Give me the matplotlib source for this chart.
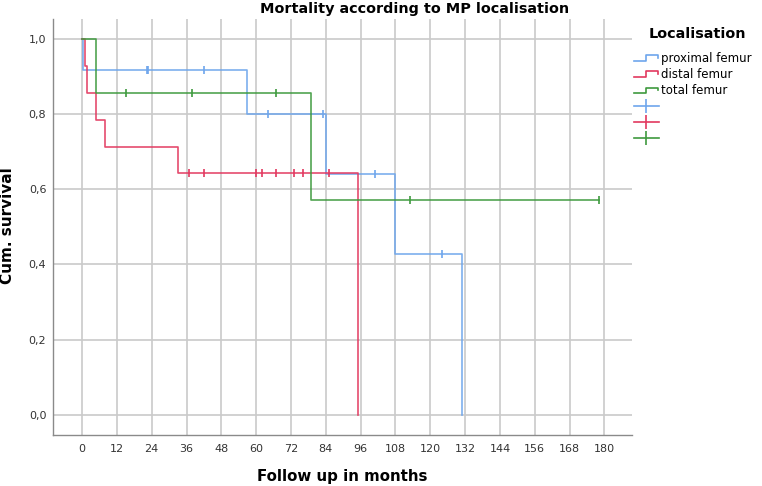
import numpy as np
import matplotlib
matplotlib.use("Agg")
import matplotlib.pyplot as plt
from matplotlib.lines import Line2D
from matplotlib.legend_handler import HandlerBase

# ---- data ----
groups = ["proximal femur", "distal femur", "total femur"]

prox_t = [0, 0.3, 57, 84, 108, 131]
prox_s = [1.0, 0.917, 0.802, 0.642, 0.428, 0.0]
prox_end = 131
prox_cens = [22.3, 22.9, 42, 64, 83, 101, 124]

dist_t = [0, 1.0, 1.8, 4.8, 7.9, 33, 95]
dist_s = [1.0, 0.929, 0.857, 0.786, 0.714, 0.643, 0.0]
dist_end = 95
dist_cens = [37, 42, 60, 62, 67, 73, 76, 85]

tot_t = [0, 4.8, 79]
tot_s = [1.0, 0.857, 0.571]
tot_end = 178
tot_cens = [15, 38, 67, 113, 178]

xticks = list(range(0, 181, 12))
yticks = [0.0, 0.2, 0.4, 0.6, 0.8, 1.0]
ytick_labels = ["0,0", "0,2", "0,4", "0,6", "0,8", "1,0"]

colors = ["#6ea6ec", "#e2385f", "#3e9a3e"]

W, H = 762, 486
fig = plt.figure(figsize=(W / 100, H / 100), dpi=100)
ax = fig.add_axes([53.3 / W, 1 - 435.3 / H, (632.3 - 53.3) / W, (435.3 - 19.3) / H])

ax.set_xlim(-9.9, 189.6)
ax.set_ylim(-0.055, 1.053)
ax.set_xticks(xticks)
ax.set_yticks(yticks)
ax.set_yticklabels(ytick_labels)
ax.grid(True, color="#cacaca", lw=1.2)
ax.set_axisbelow(True)
for s in ["top", "right"]:
    ax.spines[s].set_visible(False)
for s in ["left", "bottom"]:
    ax.spines[s].set_color("#8a8a8a")
    ax.spines[s].set_linewidth(1.0)
ax.tick_params(length=0, labelsize=8, colors="#333333")
ax.tick_params(axis="y", pad=5)
ax.tick_params(axis="x", pad=6)


def surv_at(ts, ss, t):
    idx = np.searchsorted(np.asarray(ts), t, side="right") - 1
    return np.asarray(ss)[idx]


series = [
    (prox_t, prox_s, prox_end, prox_cens),
    (dist_t, dist_s, dist_end, dist_cens),
    (tot_t, tot_s, tot_end, tot_cens),
]
for (ts, ss, tend, cens), c in zip(series, colors):
    xs = list(ts) + [tend]
    ys = list(ss) + [ss[-1]]
    ax.step(xs, ys, where="post", color=c, lw=1.2, alpha=0.9, zorder=3)
    cy = [surv_at(ts, ss, t) for t in cens]
    ax.plot(cens, cy, ls="none", marker="|", ms=6, mew=1.2, color=c, zorder=4)

fig.text(415 / W, 1 - 13 / H, "Mortality according to MP localisation",
         ha="center", va="baseline", fontsize=10.4, fontweight="bold")
fig.text(342 / W, 1 - 476.7 / H, "Follow up in months",
         ha="center", va="center", fontsize=10.8, fontweight="bold")
fig.text(8 / W, 1 - 226 / H, "Cum. survival", rotation=90,
         ha="center", va="center", fontsize=11, fontweight="bold")


class StepHandler(HandlerBase):
    def create_artists(self, legend, orig_handle, xdescent, ydescent,
                       width, height, fontsize, trans):
        x = np.array([0, 0.5, 0.5, 0.97, 0.97]) * width - xdescent
        y = np.array([0.1, 0.1, 0.8, 0.8, 0.45]) * height - ydescent
        ln = Line2D(x, y, color=orig_handle.get_color(), lw=1.2, transform=trans)
        return [ln]


step_handles = [Line2D([], [], color=c) for c in colors]
cens_handles = [Line2D([], [], color=c, lw=1.2, marker="|", ms=10, mew=1.2) for c in colors]
handler_map = {h: StepHandler() for h in step_handles}

fig.text(697 / W, 1 - 34 / H, "Localisation", ha="center", va="center",
         fontsize=10.4, fontweight="bold")

leg = fig.legend(step_handles + cens_handles, groups + [" ", " ", " "],
                 handler_map=handler_map, loc="upper left",
                 bbox_to_anchor=(634 / W, 1 - 52 / H), frameon=False,
                 fontsize=8.5, handlelength=2.1, handletextpad=0.2,
                 labelspacing=0.26, borderpad=0.0, borderaxespad=0)

fig.savefig("out.png", dpi=100)
